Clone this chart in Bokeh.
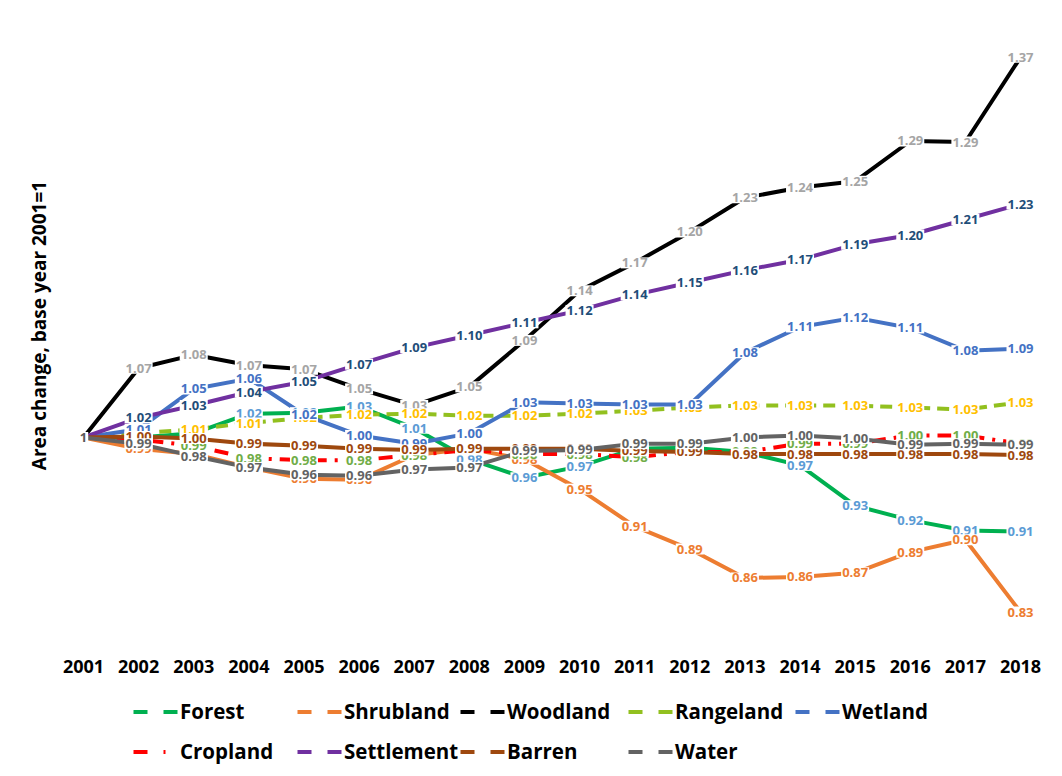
from bokeh.plotting import figure
from bokeh.layouts import column
from bokeh.models import ColumnDataSource, Legend, LegendItem, FixedTicker, Range1d
from bokeh.core.properties import value
from bokeh.embed import file_html
from bokeh.resources import INLINE

years = list(range(2001, 2019))
series_names = ["Forest", "Shrubland", "Woodland", "Rangeland", "Wetland",
                "Cropland", "Settlement", "Barren", "Water"]

forest     = [1, 1.000, 1.004, 1.023, 1.024, 1.030, 1.009, 0.979, 0.961, 0.972, 0.989, 0.990, 0.986, 0.973, 0.934, 0.920, 0.910, 0.909]
shrubland  = [1, 0.989, 0.984, 0.971, 0.960, 0.959, 0.983, 0.989, 0.979, 0.950, 0.914, 0.892, 0.864, 0.865, 0.869, 0.889, 0.901, 0.831]
woodland   = [1, 1.067, 1.080, 1.070, 1.066, 1.047, 1.031, 1.049, 1.094, 1.142, 1.169, 1.199, 1.232, 1.242, 1.248, 1.287, 1.286, 1.368]
rangeland  = [1, 1.004, 1.008, 1.014, 1.019, 1.022, 1.023, 1.021, 1.021, 1.023, 1.026, 1.029, 1.031, 1.031, 1.031, 1.029, 1.027, 1.034]
wetland    = [1, 1.008, 1.047, 1.057, 1.022, 1.002, 0.994, 1.004, 1.034, 1.033, 1.032, 1.032, 1.082, 1.107, 1.116, 1.106, 1.084, 1.086]
cropland   = [1, 0.998, 0.992, 0.980, 0.978, 0.978, 0.983, 0.988, 0.984, 0.984, 0.981, 0.986, 0.986, 0.994, 0.994, 1.002, 1.002, 0.994]
settlement = [1, 1.019, 1.031, 1.044, 1.054, 1.071, 1.087, 1.099, 1.111, 1.123, 1.138, 1.150, 1.162, 1.172, 1.187, 1.196, 1.211, 1.226]
barren     = [1, 1.001, 0.999, 0.994, 0.992, 0.989, 0.988, 0.989, 0.989, 0.989, 0.987, 0.986, 0.984, 0.984, 0.984, 0.984, 0.984, 0.983]
water      = [1, 0.994, 0.982, 0.971, 0.964, 0.963, 0.969, 0.971, 0.987, 0.988, 0.994, 0.994, 1.000, 1.002, 0.999, 0.993, 0.994, 0.993]

series_values = [forest, shrubland, woodland, rangeland, wetland,
                 cropland, settlement, barren, water]
line_colors = ["#00B050", "#ED7D31", "#000000", "#92C01F", "#4472C4",
               "#FF0000", "#7030A0", "#9E480E", "#636363"]
line_dashes = ["solid", "solid", "solid", "12 7", "solid",
               "14 8 3 8", "solid", "solid", "solid"]
legend_dashes = ["14 16", "14 16", "14 16", "14 16", "14 16",
                 "14 16 2 16", "14 16", "14 16", "14 16"]
label_colors = ["#5B9BD5", "#ED7D31", "#A5A5A5", "#FFC000", "#4472C4",
                "#70AD47", "#1F4E79", "#9E480E", "#636363"]
base_label = "1"
base_label_color = "#595959"
y_title = "Area change, base year 2001=1"
# legend layout: columns of (item indices)
legend_columns = [[0, 5], [1, 6], [2, 7], [3, 8], [4]]
legend_col_x = [133, 297, 460, 628, 795]

FONT = value("Open Sans")
LEFT = 56
QH = 80

p = figure(width=1046, height=688, frame_width=984, frame_height=600,
           min_border_left=LEFT, min_border_right=6,
           min_border_top=25, min_border_bottom=63,
           x_range=Range1d(2000.5102, 2018.3628), y_range=Range1d(0.8180, 1.3988),
           output_backend="svg", toolbar_location=None)
p.outline_line_color = None
p.xgrid.visible = False
p.ygrid.visible = False

# lines
for name, vals, col, dash in zip(series_names, series_values, line_colors, line_dashes):
    p.line(x=years, y=vals, line_color=col, line_width=4, line_dash=dash,
           line_join="round", line_cap="butt")

# data labels
lx, ly, lt, lc = [], [], [], []
for vals, col in zip(series_values, label_colors):
    for yr, v in zip(years[1:], vals[1:]):
        lx.append(yr)
        ly.append(v)
        lt.append(f"{v:.2f}")
        lc.append(col)
lx.append(years[0]); ly.append(1.0); lt.append(base_label); lc.append(base_label_color)
src = ColumnDataSource(dict(x=lx, y=ly, t=lt, c=lc))
p.text(x="x", y="y", text="t", source=src, text_color="c",
       text_font=FONT, text_font_style="bold", text_font_size="13px",
       text_align="center", text_baseline="middle",
       background_fill_color="white", padding=1)

# axes
p.xaxis.ticker = FixedTicker(ticks=years)
p.xaxis.axis_line_color = None
p.xaxis.major_tick_line_color = None
p.xaxis.minor_tick_line_color = None
p.xaxis.major_tick_out = 0
p.xaxis.major_tick_in = 0
p.xaxis.major_label_standoff = 34
p.xaxis.major_label_text_font = "Open Sans"
p.xaxis.major_label_text_font_style = "bold"
p.xaxis.major_label_text_font_size = "18px"
p.xaxis.major_label_text_color = "black"

p.yaxis.ticker = FixedTicker(ticks=[])
p.yaxis.axis_line_color = None
p.yaxis.major_tick_line_color = None
p.yaxis.minor_tick_line_color = None
p.yaxis.major_tick_out = 0
p.yaxis.major_tick_in = 0
p.yaxis.axis_label = y_title
p.yaxis.axis_label_standoff = 5
p.yaxis.axis_label_text_font = "Open Sans"
p.yaxis.axis_label_text_font_style = "bold"
p.yaxis.axis_label_text_font_size = "19px"
p.yaxis.axis_label_text_color = "black"

# legend figure
q = figure(width=1046, height=QH, frame_width=984, frame_height=QH,
           min_border_left=LEFT, min_border_right=6, min_border_top=0, min_border_bottom=0,
           x_range=Range1d(0, 1), y_range=Range1d(0, 1),
           output_backend="svg", toolbar_location=None)
q.axis.visible = False
q.grid.visible = False
q.outline_line_color = None
nan = float("nan")
renderers = []
for name, col, dash in zip(series_names, line_colors, legend_dashes):
    renderers.append(q.line(x=[nan], y=[nan], line_color=col, line_width=4, line_dash=dash))
for idxs, cx in zip(legend_columns, legend_col_x):
    items = [LegendItem(label=series_names[i], renderers=[renderers[i]]) for i in idxs]
    n = len(idxs)
    h = n * 25 + (n - 1) * 12
    top = 15 if n > 1 else 12
    legend = Legend(items=items, orientation="vertical",
                    label_text_font="Open Sans", label_text_font_style="bold",
                    label_text_font_size="20.5px", label_text_color="black",
                    glyph_width=45, glyph_height=25, label_height=25,
                    label_standoff=2, spacing=12, padding=0, margin=0,
                    border_line_color=None, background_fill_alpha=0,
                    location=(cx - LEFT, QH - top - h))
    q.add_layout(legend, "center")

open("out.html", "w").write(file_html(column(p, q, spacing=0), INLINE))
